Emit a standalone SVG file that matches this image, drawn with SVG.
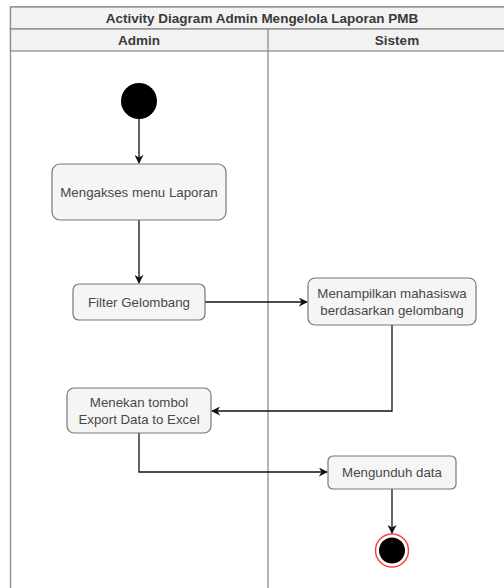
<svg xmlns="http://www.w3.org/2000/svg" width="504" height="588" viewBox="0 0 504 588">
<defs>
<style>
.lane{fill:#ffffff;stroke:#8c8c8c;stroke-width:1.3}
.hdr{fill:#f2f2f2;stroke:#8c8c8c;stroke-width:1.3}
.ht{font-family:"Liberation Sans",Arial,sans-serif;font-size:13.5px;font-weight:bold;fill:#3a3a3a;text-anchor:middle}
.node{fill:#f5f5f5;stroke:#777;stroke-width:1.2}
.nt{font-family:"Liberation Sans",Arial,sans-serif;font-size:13.3px;fill:#484848;text-anchor:middle}
.edge{fill:none;stroke:#111;stroke-width:1.3}
</style>
<marker id="arr" viewBox="0 0 10 10" refX="9" refY="5" markerWidth="9" markerHeight="9" markerUnits="userSpaceOnUse" orient="auto">
<path d="M0,0 L10,5 L0,10 L3,5 Z" fill="#111"/>
</marker>
</defs>
<g id="pool">
<rect class="lane" x="10.5" y="7" width="520" height="590"/>
<rect class="hdr" x="10.5" y="7" width="520" height="22"/>
<text class="ht" x="262" y="23">Activity Diagram Admin Mengelola Laporan PMB</text>
<rect class="hdr" x="10.5" y="29" width="520" height="22"/>
<line x1="268" y1="29" x2="268" y2="600" stroke="#8c8c8c" stroke-width="1.3"/>
<text class="ht" x="139" y="45">Admin</text>
<text class="ht" x="397" y="45">Sistem</text>
</g>
<g id="edges">
<path class="edge" d="M139,119 V163" marker-end="url(#arr)"/>
<path class="edge" d="M139,220 V283" marker-end="url(#arr)"/>
<path class="edge" d="M205,302 H307" marker-end="url(#arr)"/>
<path class="edge" d="M392,325 V411 H212" marker-end="url(#arr)"/>
<path class="edge" d="M139,433 V472 H327" marker-end="url(#arr)"/>
<path class="edge" d="M392,489 V533" marker-end="url(#arr)"/>
</g>
<g id="start">
<circle cx="139" cy="101" r="18" fill="#000"/>
</g>
<g id="n1">
<rect class="node" x="52" y="164" width="174" height="56" rx="8"/>
<text class="nt" x="139" y="196.5">Mengakses menu Laporan</text>
</g>
<g id="n2">
<rect class="node" x="73" y="284" width="132" height="36" rx="6"/>
<text class="nt" x="139" y="306.5">Filter Gelombang</text>
</g>
<g id="n3">
<rect class="node" x="308" y="278" width="168" height="47" rx="7"/>
<text class="nt" x="392" y="298">Menampilkan mahasiswa</text>
<text class="nt" x="392" y="315">berdasarkan gelombang</text>
</g>
<g id="n4">
<rect class="node" x="67" y="388" width="144" height="45" rx="7"/>
<text class="nt" x="139" y="407">Menekan tombol</text>
<text class="nt" x="139" y="424">Export Data to Excel</text>
</g>
<g id="n5">
<rect class="node" x="328" y="456" width="128" height="33" rx="5"/>
<text class="nt" x="392" y="477">Mengunduh data</text>
</g>
<g id="end">
<circle cx="392" cy="550.5" r="16.5" fill="#fff" stroke="#ff4040" stroke-width="1.5"/>
<circle cx="392" cy="550.5" r="13" fill="#000"/>
</g>
</svg>
